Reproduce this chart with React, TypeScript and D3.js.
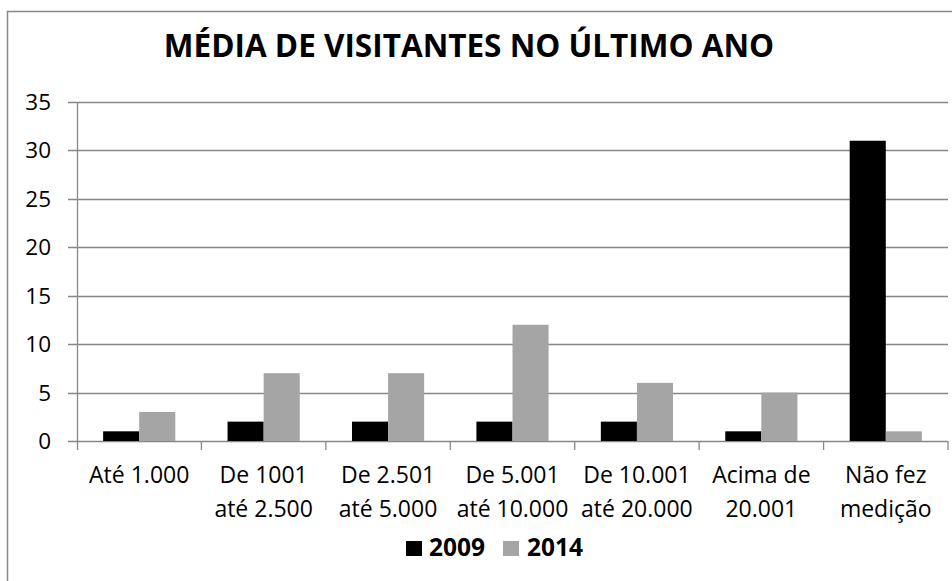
import React from "react";
import * as d3 from "d3";

const categories: string[][] = [
  ["Até 1.000"],
  ["De 1001", "até 2.500"],
  ["De 2.501", "até 5.000"],
  ["De 5.001", "até 10.000"],
  ["De 10.001", "até 20.000"],
  ["Acima de", "20.001"],
  ["Não fez", "medição"],
];
const seriesNames = ["2009", "2014"];
const values2009 = [1, 2, 2, 2, 2, 1, 31];
const values2014 = [3, 7, 7, 12, 6, 5, 1];
const yTicks = [0, 5, 10, 15, 20, 25, 30, 35];
const title = "MÉDIA DE VISITANTES NO ÚLTIMO ANO";

const colors = ["#000000", "#a5a5a5"];
const gridColor = "#878787";
const FONT = "'Open Sans', 'DejaVu Sans', sans-serif";

export default function App() {
  const W = 952;
  const H = 581;
  const left = 77;
  const right = 948;
  const top = 102;
  const bottom = 441;

  const idx = categories.map((_, i) => String(i));
  const x = d3.scaleBand<string>().domain(idx).range([left, right]).paddingInner(0.42).paddingOuter(0.21);
  const xs = d3.scaleBand<string>().domain(seriesNames).range([0, x.bandwidth()]);
  const y = d3.scaleLinear().domain([0, 35]).range([bottom, top]);
  const step = x.step();
  const series = [values2009, values2014];

  return (
    <svg width={W} height={H} style={{ position: "absolute", left: 0, top: 0, display: "block" }} fontFamily={FONT}>
      <rect x={0} y={0} width={W} height={H} fill="#fff" />
      <rect x={7.5} y={11.5} width={W + 10} height={H + 10} fill="none" stroke="#888" strokeWidth={1.5} />
      <text x={469} y={57} textAnchor="middle" fontWeight="bold" fontSize={31.5} fill="#000">
        {title}
      </text>
      {/* gridlines */}
      {yTicks.map((t) => (
        <g key={t}>
          <line x1={68} x2={right} y1={Math.round(y(t)) + 0.5} y2={Math.round(y(t)) + 0.5} stroke={gridColor} strokeWidth={1.3} />
          <text x={51} y={y(t) + 8} textAnchor="end" fontSize={22.5} fill="#000">
            {t}
          </text>
        </g>
      ))}
      {/* y axis */}
      <line x1={left + 0.5} x2={left + 0.5} y1={top} y2={bottom + 9} stroke={gridColor} strokeWidth={1.3} />
      {/* x ticks */}
      {idx.map((k, i) => (
        <line key={k} x1={left + step * (i + 1)} x2={left + step * (i + 1)} y1={bottom} y2={bottom + 9} stroke={gridColor} strokeWidth={1.3} />
      ))}
      {/* bars */}
      {series.map((vals, s) =>
        vals.map((v, i) => (
          <rect
            key={`${s}-${i}`}
            x={(x(String(i)) as number) + (xs(seriesNames[s]) as number)}
            y={y(v)}
            width={xs.bandwidth()}
            height={bottom - y(v)}
            fill={colors[s]}
          />
        ))
      )}
      {/* category labels */}
      {categories.map((lines, i) => (
        <text key={i} textAnchor="middle" fontSize={23} fill="#000">
          {lines.map((ln, j) => (
            <tspan key={j} x={(x(String(i)) as number) + x.bandwidth() / 2} y={483 + j * 34}>
              {ln}
            </tspan>
          ))}
        </text>
      ))}
      {/* legend */}
      {seriesNames.map((n, s) => (
        <g key={n}>
          <rect x={406 + s * 97} y={541} width={16} height={15} fill={colors[s]} />
          <text x={429 + s * 98} y={556} fontSize={24.5} fontWeight="bold" fill="#000">
            {n}
          </text>
        </g>
      ))}
    </svg>
  );
}
